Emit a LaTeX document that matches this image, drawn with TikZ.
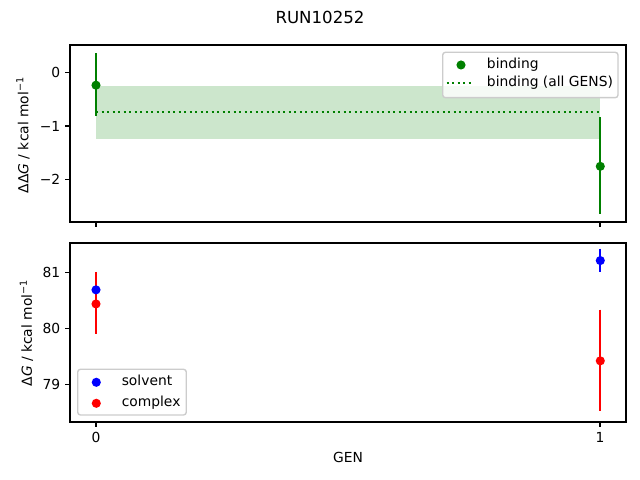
\documentclass[tikz,border=0pt]{standalone}
\usepackage{fontspec}
\setmainfont{DejaVu Sans}
\usetikzlibrary{arrows}

\definecolor{mplgreen}{RGB}{0,128,0}
\definecolor{mplgray}{gray}{0.8}

\begin{document}
\begin{tikzpicture}[x=0.01in, y=0.01in, font=\fontsize{10}{12}\selectfont,
  dot/.style={circle, inner sep=0pt, minimum size=6.6pt},
  errbar/.style={line width=1.5pt},
  axframe/.style={line width=0.8pt},
  dotline/.style={mplgreen, line width=1.5pt, dash pattern=on 1.5pt off 2.475pt},
  legendbox/.style={draw=mplgray, fill=white, fill opacity=0.8, rounded corners=2pt, line width=1pt},
  ylab/.style={anchor=east, inner sep=0pt},
  xlab/.style={anchor=north, inner sep=0pt},
  entry/.style={anchor=west, inner sep=0pt, text height=7pt, text depth=2pt}]
\useasboundingbox (0,0) rectangle (640,480);

\node (title) at (320,463) {\fontsize{12}{14}\selectfont RUN10252};

% top axes: binding
\begin{scope}[shift={(96,407.7)}, x=5.04in, y=0.537in]
\fill[mplgreen, opacity=0.2] (0,-0.255) rectangle (1,-1.25);
\coordinate (avgL) at (0,-0.745);
\coordinate (avgR) at (1,-0.745);
\draw[dotline] (avgL) -- (avgR);

\coordinate (b0hi) at (0,0.35);
\coordinate (b0lo) at (0,-0.81);
\coordinate (b1hi) at (1,-0.84);
\coordinate (b1lo) at (1,-2.64);
\draw[errbar, mplgreen] (b0hi) -- (b0lo);
\draw[errbar, mplgreen] (b1hi) -- (b1lo);
\node[dot, fill=mplgreen] (b0) at (0,-0.24) {};
\node[dot, fill=mplgreen] (b1) at (1,-1.75) {};
\end{scope}

\draw[axframe] (70,258) rectangle (626,435);
\foreach \y/\t in {407.7/0, 354.0/−1, 300.3/−2} {
  \draw[axframe] (65.1,\y) -- (70,\y);
  \node[ylab] at (60.5,\y) {\t};
}
\foreach \x in {96,600}
  \draw[axframe] (\x,258) -- (\x,253.1);
\node[rotate=90] (ylabtop) at (23,345) {ΔΔ\textit{G} / kcal mol\textsuperscript{−1}};

% top legend
\draw[legendbox] (442.7,382.3) rectangle (618,427.7);
\node[dot, fill=mplgreen] (keyb) at (461,415) {};
\node[entry] (keybt) at (486.7,415) {binding};
\coordinate (keyaL) at (446.7,396.7);
\coordinate (keyaR) at (474,396.7);
\draw[dotline] (keyaL) -- (keyaR);
\node[entry] (keyat) at (486.7,396.7) {binding (all GENS)};

% bottom axes: solvent and complex
\begin{scope}[shift={(96,-4352.5)}, x=5.04in, y=0.563in]
\coordinate (s0hi) at (0,80.68);
\coordinate (s0lo) at (0,80.60);
\coordinate (s1hi) at (1,81.37);
\coordinate (s1lo) at (1,80.96);
\coordinate (c0hi) at (0,80.96);
\coordinate (c0lo) at (0,79.85);
\coordinate (c1hi) at (1,80.29);
\coordinate (c1lo) at (1,78.49);
\draw[errbar, blue] (s0hi) -- (s0lo);
\draw[errbar, blue] (s1hi) -- (s1lo);
\draw[errbar, red] (c0hi) -- (c0lo);
\draw[errbar, red] (c1hi) -- (c1lo);
\node[dot, fill=blue] (s0) at (0,80.64) {};
\node[dot, fill=blue] (s1) at (1,81.16) {};
\node[dot, fill=red] (c0) at (0,80.39) {};
\node[dot, fill=red] (c1) at (1,79.38) {};
\end{scope}

\draw[axframe] (70,58) rectangle (626,237);
\foreach \y/\t in {207.8/81, 151.5/80, 95.2/79} {
  \draw[axframe] (65.1,\y) -- (70,\y);
  \node[ylab] at (60.5,\y) {\t};
}
\foreach \x/\t in {96/0, 600/1} {
  \draw[axframe] (\x,58) -- (\x,53.1);
  \node[xlab] at (\x,48.3) {\t};
}
\node[rotate=90] (ylabbot) at (26.5,147) {Δ\textit{G} / kcal mol\textsuperscript{−1}};
\node (xlabbot) at (348,23) {GEN};

% bottom legend
\draw[legendbox] (77.7,65) rectangle (186.3,110.7);
\node[dot, fill=blue] (keys) at (96.3,97.7) {};
\node[entry] (keyst) at (121.5,97.7) {solvent};
\node[dot, fill=red] (keyc) at (96.3,76.7) {};
\node[entry] (keyct) at (121.5,76.7) {complex};

\end{tikzpicture}
\end{document}
